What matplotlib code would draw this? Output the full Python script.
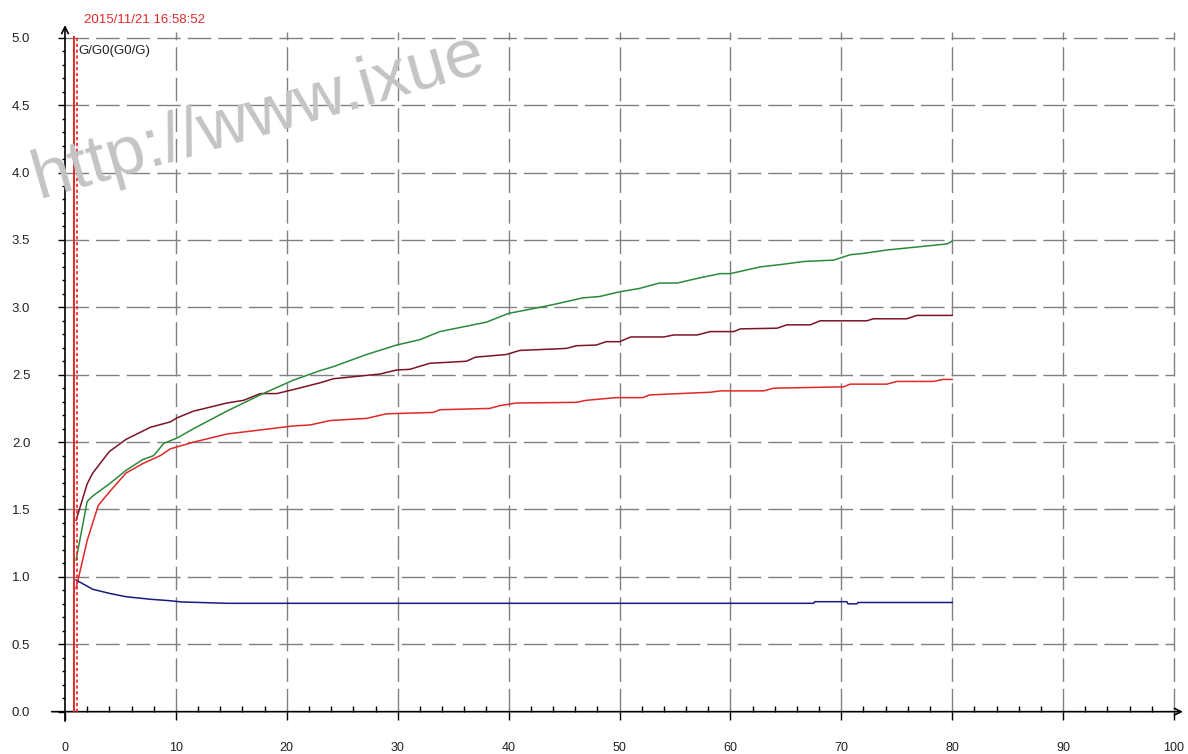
import matplotlib
matplotlib.use("Agg")
import matplotlib.pyplot as plt
import numpy as np

plt.rcParams['font.family'] = ['Liberation Sans', 'DejaVu Sans']

# Data
maroon_x = [1.0, 2.0, 2.5, 4.0, 5.5, 7.7, 9.5, 10.1, 11.6, 13.1, 14.6, 16.1, 17.6, 19.1, 20.6, 23.0,
            24.2, 28.4, 29.9, 31.1, 32.9, 34.1, 36.2, 37.0, 39.8, 41.0, 45.2, 46.1, 47.9, 48.8, 50.0,
            51.0, 54.0, 54.9, 57.0, 58.2, 60.3, 60.9, 64.2, 65.1, 67.2, 68.1, 72.3, 72.9, 75.9, 76.8, 80.0]
maroon_y = [1.42, 1.69, 1.77, 1.93, 2.02, 2.11, 2.15, 2.18, 2.23, 2.26, 2.29, 2.31, 2.36, 2.36, 2.39, 2.44,
            2.47, 2.505, 2.535, 2.54, 2.585, 2.59, 2.60, 2.63, 2.65, 2.68, 2.695, 2.715, 2.72, 2.745, 2.745,
            2.78, 2.78, 2.795, 2.795, 2.82, 2.82, 2.84, 2.845, 2.87, 2.87, 2.90, 2.90, 2.915, 2.915, 2.94, 2.94]

green_x = [1.0, 2.0, 2.5, 4.0, 5.5, 7.0, 8.0, 8.9, 10.1, 11.6, 14.6, 17.6, 20.6, 23.0, 24.2, 27.2, 29.9,
           32.0, 33.8, 36.2, 38.0, 40.0, 42.2, 44.0, 46.7, 48.2, 50.0, 51.8, 53.6, 55.2, 57.3, 59.1, 60.0,
           62.7, 64.8, 66.6, 69.3, 70.8, 72.0, 74.1, 77.1, 79.5, 80.0]
green_y = [1.125, 1.56, 1.60, 1.69, 1.79, 1.87, 1.90, 1.99, 2.03, 2.10, 2.23, 2.35, 2.46, 2.53, 2.56, 2.65, 2.72,
           2.76, 2.82, 2.86, 2.89, 2.955, 2.99, 3.02, 3.07, 3.08, 3.115, 3.14, 3.18, 3.18, 3.22, 3.25, 3.25,
           3.30, 3.32, 3.34, 3.35, 3.39, 3.40, 3.425, 3.45, 3.47, 3.49]

red_x = [1.0, 2.0, 3.0, 4.0, 5.5, 7.0, 8.6, 9.5, 11.6, 14.6, 17.6, 20.6, 22.1, 23.9, 27.2, 29.0, 33.2, 33.8,
         38.3, 39.2, 40.7, 46.1, 47.0, 49.7, 52.1, 52.7, 58.2, 59.1, 63.0, 63.9, 70.2, 70.8, 74.1, 75.0,
         78.3, 79.2, 80.0]
red_y = [0.915, 1.27, 1.53, 1.63, 1.77, 1.84, 1.90, 1.95, 2.00, 2.06, 2.09, 2.12, 2.127, 2.16, 2.176, 2.21, 2.22, 2.24,
         2.25, 2.27, 2.29, 2.295, 2.31, 2.33, 2.33, 2.35, 2.37, 2.38, 2.38, 2.40, 2.41, 2.43, 2.43, 2.45,
         2.45, 2.465, 2.465]

blue_x = [1.0, 2.5, 4.0, 5.5, 7.7, 9.5, 10.5, 14.6, 67.5, 67.6, 70.5, 70.6, 71.4, 71.5, 80.0]
blue_y = [0.977, 0.908, 0.878, 0.853, 0.834, 0.823, 0.814, 0.804, 0.804, 0.816, 0.816, 0.80, 0.80, 0.81, 0.81]

x_ticks = [0, 10, 20, 30, 40, 50, 60, 70, 80, 90, 100]
y_ticks = [0.0, 0.5, 1.0, 1.5, 2.0, 2.5, 3.0, 3.5, 4.0, 4.5, 5.0]

start_time = 1.0
cursor_x = 0.8
timestamp = "2015/11/21 16:58:52"
y_name = "G/G0(G0/G)"
watermark = "http://www.ixue"

fig = plt.figure(figsize=(11.88, 7.54), dpi=100)
ax = fig.add_axes([0, 0, 1, 1])
ax.set_xlim(-5.86, 101.26)
ax.set_ylim(-0.314, 5.28)

for s in ['top', 'right', 'left', 'bottom']:
    ax.spines[s].set_visible(False)

# watermark (behind everything)
fig.text(0.032, 0.737, watermark, fontsize=50, color='#c4c4c4', rotation=16,
         rotation_mode='anchor', ha='left', va='baseline', zorder=0)

# grid
grid_kw = dict(color='#808080', lw=1.0, linestyles=[(0, (17, 5))], zorder=1)
ax.hlines(y_ticks[1:], 0, 100, **grid_kw)
ax.vlines(x_ticks[1:], 0, 5.04, **grid_kw)

# axes with arrows
arrow = dict(arrowstyle='->', color='black', lw=1.2, mutation_scale=12, shrinkA=0, shrinkB=0)
ax.annotate('', xy=(0, 5.094), xytext=(0, -0.07), arrowprops=arrow, zorder=4)
ax.annotate('', xy=(100.8, 0), xytext=(-1.2, 0), arrowprops=arrow, zorder=4)

# ticks
ax.set_xticks(x_ticks)
ax.set_yticks(y_ticks)
ax.set_xticks(np.arange(0, 101, 2), minor=True)
ax.set_yticks(np.arange(0, 5.01, 0.1), minor=True)
ax.set_xticklabels([str(v) for v in x_ticks])
ax.set_yticklabels([f"{v:.1f}" for v in y_ticks])
ax.spines['left'].set_position(('data', 0))
ax.spines['bottom'].set_position(('data', 0))
ax.tick_params(axis='x', which='major', direction='out', length=5.5, width=1, pad=16,
               labelsize=9, labelcolor='#222222')
ax.tick_params(axis='x', which='minor', direction='in', length=4, width=1)
ax.tick_params(axis='y', which='major', direction='out', length=5, width=1, pad=20,
               labelsize=9.5, labelcolor='#222222')
ax.tick_params(axis='y', which='minor', direction='out', length=2.5, width=1)

# cursor lines
ax.vlines(cursor_x, 0, 5.01, color='#e02a2a', lw=1.4, zorder=5)
ax.vlines(start_time + 0.1, 0, 5.01, color='#e02a2a', lw=1.2, linestyles=[(0, (2, 1.5))], zorder=5)

# curves
ax.plot(maroon_x, maroon_y, color='#7a1428', lw=1.1, zorder=3)
ax.plot(green_x, green_y, color='#2a8a3a', lw=1.1, zorder=3)
ax.plot(red_x, red_y, color='#e02828', lw=1.1, zorder=3)
ax.plot(blue_x, blue_y, color='#1a1a80', lw=1.1, zorder=3)

# texts
ax.text(1.7, 5.13, timestamp, color='#e02a2a', fontsize=9.5, va='center', ha='left')
ax.text(1.2, 4.90, y_name, color='#222222', fontsize=9.5, va='center', ha='left')

fig.savefig("out.png", dpi=100)
